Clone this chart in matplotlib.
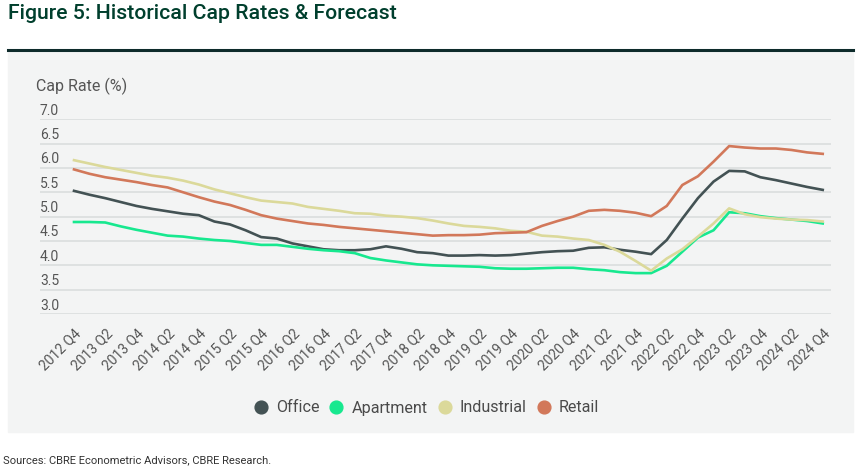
import matplotlib.pyplot as plt
from matplotlib.patches import Rectangle
from matplotlib.lines import Line2D
import matplotlib.transforms as mtransforms

plt.rcParams['font.family'] = ['Roboto', 'DejaVu Sans']

# quarters 2012 Q4 .. 2024 Q4
quarters = ["2012 Q4"] + [f"{y} Q{q}" for y in range(2013, 2025) for q in range(1, 5)]

office = [5.53, 5.45, 5.38, 5.30, 5.22, 5.16, 5.11, 5.06, 5.03, 4.90,
          4.84, 4.72, 4.58, 4.55, 4.45, 4.39, 4.33, 4.31, 4.31, 4.33,
          4.39, 4.34, 4.27, 4.25, 4.20, 4.20, 4.21, 4.20, 4.21, 4.24,
          4.27, 4.29, 4.30, 4.36, 4.37, 4.32, 4.28, 4.23, 4.52, 4.96,
          5.38, 5.72, 5.94, 5.93, 5.81, 5.75, 5.68, 5.61, 5.55]
apartment = [4.89, 4.89, 4.88, 4.80, 4.73, 4.67, 4.61, 4.59, 4.55, 4.52,
             4.50, 4.46, 4.42, 4.42, 4.38, 4.34, 4.31, 4.29, 4.25, 4.15,
             4.10, 4.06, 4.02, 4.00, 3.99, 3.98, 3.97, 3.94, 3.93, 3.93,
             3.94, 3.95, 3.95, 3.92, 3.90, 3.86, 3.84, 3.84, 3.99, 4.28,
             4.57, 4.72, 5.09, 5.07, 5.01, 4.97, 4.94, 4.91, 4.86]
industrial = [6.16, 6.09, 6.02, 5.96, 5.90, 5.84, 5.80, 5.74, 5.66, 5.56,
              5.48, 5.40, 5.33, 5.30, 5.27, 5.20, 5.16, 5.12, 5.07, 5.06,
              5.02, 5.00, 4.97, 4.92, 4.86, 4.81, 4.79, 4.76, 4.71, 4.69,
              4.61, 4.59, 4.55, 4.52, 4.42, 4.28, 4.09, 3.89, 4.14, 4.33,
              4.59, 4.86, 5.17, 5.05, 4.99, 4.96, 4.94, 4.93, 4.90]
retail = [5.97, 5.88, 5.81, 5.76, 5.71, 5.65, 5.60, 5.50, 5.40, 5.31,
          5.24, 5.14, 5.03, 4.96, 4.91, 4.86, 4.83, 4.79, 4.76, 4.73,
          4.70, 4.67, 4.64, 4.61, 4.62, 4.62, 4.63, 4.66, 4.67, 4.68,
          4.81, 4.91, 5.00, 5.12, 5.14, 5.12, 5.08, 5.01, 5.22, 5.65,
          5.83, 6.13, 6.45, 6.42, 6.40, 6.40, 6.37, 6.32, 6.29]

series_names = ["Office", "Apartment", "Industrial", "Retail"]
series_colors = ["#435254", "#17E88F", "#DBD99A", "#D2785A"]
y_ticks = [3.0, 3.5, 4.0, 4.5, 5.0, 5.5, 6.0, 6.5, 7.0]

W, H = 867, 476
fig = plt.figure(figsize=(W / 100, H / 100), dpi=100)

# grey panel + title rule
fig.patches.append(Rectangle((8 / W, 1 - 432 / H), (853 - 8) / W, (432 - 51) / H,
                             transform=fig.transFigure, color="#f3f4f4", zorder=-10))
fig.add_artist(Line2D([8 / W, 853 / W], [1 - 49.5 / H] * 2, color="#0e2b2b", lw=2.2))
fig.text(8 / W, 1 - 13.5 / H, "Figure 5: Historical Cap Rates & Forecast", fontsize=15.3,
         fontweight="medium", color="#003f2d", va="center", ha="left")

ax = fig.add_axes([40 / W, 1 - 314 / H, 791 / W, (314 - 119.3) / H])
ax.set_zorder(5)
ax.set_facecolor("none")
for s in ax.spines.values():
    s.set_visible(False)

x = list(range(len(quarters)))
for vals, name, col in zip([office, apartment, industrial, retail], series_names, series_colors):
    ax.plot(x, vals, color=col, lw=1.9, label=name, solid_joinstyle="round", zorder=3)

ax.set_xlim(-2.18, 48.53)
ax.set_ylim(3.0, 7.0)
ax.set_yticks(y_ticks)
ax.yaxis.grid(True, color="#dcdfe0", lw=1.3)
ax.set_axisbelow(True)
ax.tick_params(axis="y", length=0, labelleft=False)

# y labels sit on top of the gridlines
off = mtransforms.ScaledTranslation(0, 8.5 / 100, fig.dpi_scale_trans)
for t in y_ticks:
    ax.text(0, t, f"{t:.1f}", transform=ax.get_yaxis_transform() + off,
            ha="left", va="center", fontsize=10, color="#555555")
ax.text(-4 / 791, 1 + (119.3 - 86) / (314 - 119.3), "Cap Rate (%)", transform=ax.transAxes,
        ha="left", va="center", fontsize=11.5, color="#555555")

ax.set_xticks(x[::2])
ax.set_xticklabels(quarters[::2], rotation=45, ha="right", rotation_mode="anchor",
                   fontsize=10, color="#555555")
ax.tick_params(axis="x", length=0, pad=9)

handles = [Line2D([], [], ls="", marker="o", markersize=9.2, color=c) for c in series_colors]
fig.legend(handles, series_names, loc="center", bbox_to_anchor=(426 / W, 1 - 408 / H),
           ncol=4, frameon=False, fontsize=11.6, handletextpad=0.45, columnspacing=0.55,
           labelcolor="#4a4a4a", handlelength=1.0)

fig.text(3 / W, 1 - 460 / H, "Sources: CBRE Econometric Advisors, CBRE Research.",
         fontsize=8, color="#333333", va="center", ha="left")

fig.savefig("out.png", dpi=100)
